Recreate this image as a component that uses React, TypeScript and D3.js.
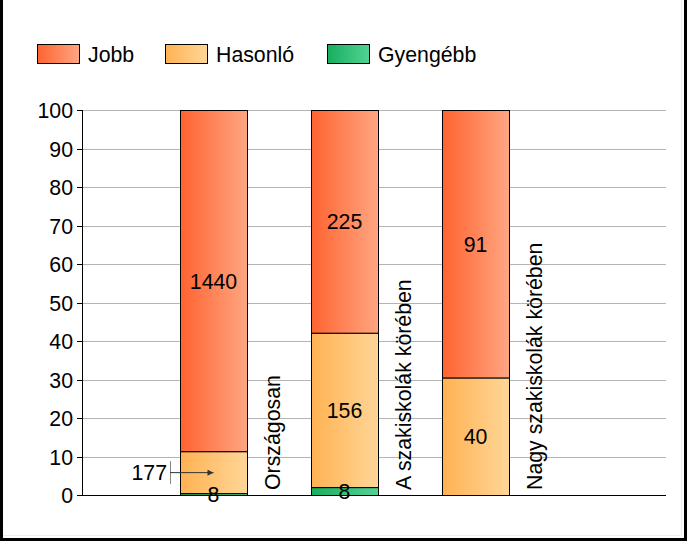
import React from "react";
import * as d3 from "d3";

const categories = ["Országosan", "A szakiskolák körében", "Nagy szakiskolák körében"];
const jobb = [1440, 225, 91];
const hasonlo = [177, 156, 40];
const gyengebb = [8, 8, 0];
const seriesNames = ["Jobb", "Hasonló", "Gyengébb"];
const yTicks = [0, 10, 20, 30, 40, 50, 60, 70, 80, 90, 100];

const W = 687;
const H = 541;
const FONT = "'Liberation Sans', Arial, sans-serif";
const FS = 21.3;

const gradStops: [string, string][] = [
  ["#FF6331", "#FFA682"],
  ["#FFB252", "#FFD698"],
  ["#17AE5E", "#52D394"],
];

export default function App() {
  const plotL = 82, plotR = 666, plotT = 110, plotB = 495;
  const y = d3.scaleLinear().domain([0, 100]).range([plotB, plotT]);
  const x = d3
    .scaleBand<string>()
    .domain(categories)
    .range([148, 541])
    .paddingInner(0.4885)
    .paddingOuter(0.24425);
  const bw = x.bandwidth();

  const rows = categories.map((c, i) => {
    const vals = [gyengebb[i], hasonlo[i], jobb[i]];
    const total = d3.sum(vals);
    let acc = 0;
    const segs = vals.map((v, k) => {
      const p0 = (acc / total) * 100;
      acc += v;
      const p1 = (acc / total) * 100;
      return { v, p0, p1, series: 2 - k };
    });
    return { c, segs };
  });

  return (
    <svg
      width={W}
      height={H}
      style={{ position: "absolute", left: 0, top: 0, background: "#fff" }}
      fontFamily={FONT}
    >
      <defs>
        {gradStops.map((g, i) => (
          <linearGradient key={i} id={`g${i}`} x1="0" x2="1" y1="0" y2="0">
            <stop offset="0" stopColor={g[0]} />
            <stop offset="1" stopColor={g[1]} />
          </linearGradient>
        ))}
        <marker id="arr" viewBox="0 0 10 10" refX="10" refY="5" markerWidth="8" markerHeight="6" orient="auto" markerUnits="userSpaceOnUse">
          <path d="M0,0 L10,5 L0,10 z" fill="#333" />
        </marker>
      </defs>
      <rect x={0} y={0} width={W} height={H} fill="#fff" />
      <line x1={681.5} x2={681.5} y1={0} y2={535} stroke="#eee" />
      <line x1={0} x2={681} y1={535.5} y2={535.5} stroke="#eee" />
      <line x1={1.5} x2={1.5} y1={0} y2={H} stroke="#000" strokeWidth={3} />
      <line x1={685.5} x2={685.5} y1={0} y2={H} stroke="#000" strokeWidth={3} />
      <line x1={0} x2={W} y1={539.5} y2={539.5} stroke="#000" strokeWidth={3} />

      {seriesNames.map((s, i) => {
        const lx = [37, 165, 327][i];
        return (
          <g key={s}>
            <rect x={lx + 0.5} y={44.5} width={42} height={19} fill={`url(#g${i})`} stroke="#000" />
            <text x={lx + 51} y={62} fontSize={FS} fill="#000">{s}</text>
          </g>
        );
      })}

      {yTicks.map((t) => (
        <g key={t}>
          {t > 0 && (
            <line x1={plotL} x2={plotR} y1={Math.round(y(t)) + 0.5} y2={Math.round(y(t)) + 0.5} stroke="#b4b4b4" />
          )}
          <line x1={plotL - 5} x2={plotL} y1={Math.round(y(t)) + 0.5} y2={Math.round(y(t)) + 0.5} stroke="#000" />
          <text x={plotL - 9} y={y(t) + 1} fontSize={FS} textAnchor="end" dominantBaseline="central" fill="#000">{t}</text>
        </g>
      ))}

      {rows.map((r) => (
        <g key={r.c}>
          {r.segs.map((s, k) =>
            s.v > 0 ? (
              <rect
                key={k}
                x={(x(r.c) as number) + 0.5}
                y={y(s.p1) + 0.5}
                width={bw}
                height={Math.max(0, y(s.p0) - y(s.p1))}
                fill={`url(#g${s.series})`}
                stroke="#000"
                strokeWidth={1}
              />
            ) : null
          )}
        </g>
      ))}

      <line x1={plotL + 0.5} x2={plotL + 0.5} y1={plotT} y2={plotB + 1} stroke="#000" />
      <line x1={plotL} x2={plotR} y1={plotB + 0.5} y2={plotB + 0.5} stroke="#000" />

      {rows.map((r, ri) =>
        r.segs.map((s, k) => {
          if (s.v <= 0) return null;
          const cx = (x(r.c) as number) + bw / 2;
          const cy = (y(s.p0) + y(s.p1)) / 2;
          const small = y(s.p0) - y(s.p1) < 50 && s.series === 1;
          if (small) {
            return (
              <g key={`${ri}-${k}`}>
                <line x1={170.5} x2={170.5} y1={cy - 11} y2={cy + 12} stroke="#888" />
                <line x1={170} x2={cx} y1={cy + 0.5} y2={cy + 0.5} stroke="#333" markerEnd="url(#arr)" />
                <text x={167} y={cy + 1} fontSize={FS} textAnchor="end" dominantBaseline="central" fill="#000">{s.v}</text>
              </g>
            );
          }
          return (
            <text key={`${ri}-${k}`} x={cx} y={cy + 1} fontSize={FS} textAnchor="middle" dominantBaseline="central" fill="#000">{s.v}</text>
          );
        })
      )}

      {categories.map((c) => {
        const bx = (x(c) as number) + bw + 33;
        return (
          <text key={c} transform={`translate(${bx},490) rotate(-90)`} fontSize={FS} fill="#000">{c}</text>
        );
      })}
    </svg>
  );
}
